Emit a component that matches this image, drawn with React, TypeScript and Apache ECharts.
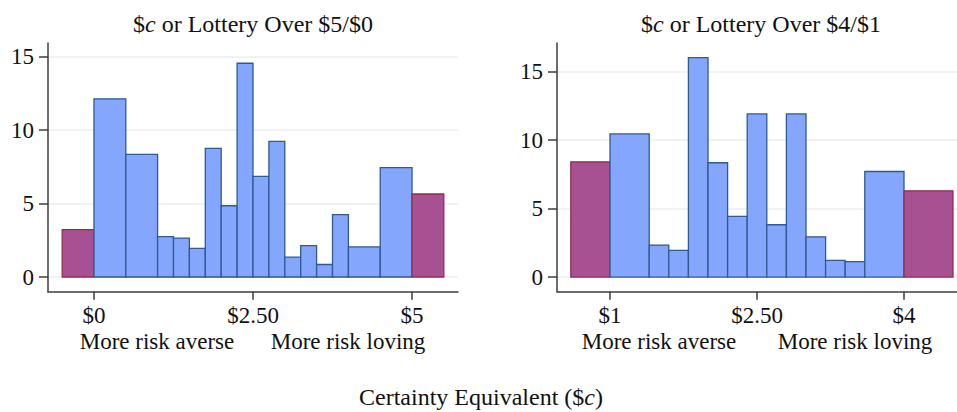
import React, { useEffect, useRef } from 'react';
import * as echarts from 'echarts';

// Left panel: $c or Lottery Over $5/$0 — bin edges and heights
const leftEdges = [-0.5, 0, 0.5, 1.0, 1.25, 1.5, 1.75, 2.0, 2.25, 2.5, 2.75, 3.0, 3.25, 3.5, 3.75, 4.0, 4.5, 5.0, 5.5];
const leftCounts = [3.22, 12.13, 8.35, 2.75, 2.65, 1.95, 8.75, 4.85, 14.55, 6.85, 9.23, 1.35, 2.13, 0.85, 4.25, 2.05, 7.45, 5.65];

// Right panel: $c or Lottery Over $4/$1
const rightEdges = [0.6, 1.0, 1.4, 1.6, 1.8, 2.0, 2.2, 2.4, 2.6, 2.8, 3.0, 3.2, 3.4, 3.6, 4.0, 4.5];
const rightCounts = [8.42, 10.46, 2.34, 1.95, 16.03, 8.35, 4.43, 11.92, 3.82, 11.92, 2.94, 1.22, 1.12, 7.71, 6.3];

const leftTicks = [0, 2.5, 5];
const rightTicks = [1, 2.5, 4];
const yTicks = [0, 5, 10, 15];

const FONT = 'Liberation Serif, Times New Roman, serif';
const TEXT = '#111111';
const AXIS = '#3c3c3c';
const GRID = '#e9f0f3';
const BLUE = '#84a6fc';
const BLUE_EDGE = '#2f5a92';
const PURPLE = '#a85192';
const PURPLE_EDGE = '#8f2f4f';

function binData(edges: number[], counts: number[]) {
  return counts.map((c, i) => [edges[i], edges[i + 1], c, i === 0 || i === counts.length - 1 ? 1 : 0]);
}

const fmtMoney = (v: number) => (v === 2.5 ? '$2.50' : '$' + v);

function xAxisCfg(grid: number, min: number, max: number, ticks: number[]) {
  return {
    type: 'value',
    gridIndex: grid,
    min,
    max,
    axisLine: { show: true, onZero: false, lineStyle: { color: AXIS, width: 1.5 } },
    axisTick: { show: true, length: 8, customValues: ticks, lineStyle: { color: AXIS, width: 1.5 } },
    axisLabel: { customValues: ticks, formatter: fmtMoney, fontSize: 23, fontFamily: FONT, color: TEXT, margin: 12 },
    splitLine: { show: false },
  };
}

function yAxisCfg(grid: number, min: number, max: number) {
  return {
    type: 'value',
    gridIndex: grid,
    min,
    max,
    axisLine: { show: true, onZero: false, lineStyle: { color: AXIS, width: 1.5 } },
    axisTick: { show: true, length: 9, customValues: yTicks, lineStyle: { color: AXIS, width: 1.5 } },
    axisLabel: { customValues: yTicks, fontSize: 23, fontFamily: FONT, color: TEXT, margin: 14 },
    splitLine: { show: true, lineStyle: { color: GRID, width: 1.5 } },
  };
}

const renderBin = (params: any, api: any) => {
  const x0 = api.value(0);
  const x1 = api.value(1);
  const h = api.value(2);
  const end = api.value(3);
  const p0 = api.coord([x0, h]);
  const p1 = api.coord([x1, 0]);
  return {
    type: 'rect',
    shape: { x: p0[0], y: p0[1], width: p1[0] - p0[0], height: p1[1] - p0[1] },
    style: {
      fill: end ? PURPLE : BLUE,
      stroke: end ? PURPLE_EDGE : BLUE_EDGE,
      lineWidth: 1.3,
    },
  };
};

function titleText(x: number, y: number, before: string, italic: string, after: string, size: number) {
  return {
    type: 'text',
    x,
    y,
    style: {
      text: `{n|${before}}{i|${italic}}{n|${after}}`,
      align: 'center',
      verticalAlign: 'middle',
      rich: {
        n: { fontSize: size, fontFamily: FONT, fill: TEXT, color: TEXT },
        i: { fontSize: size, fontFamily: FONT, fontStyle: 'italic', fill: TEXT, color: TEXT },
      },
    },
  };
}

function plainText(x: number, y: number, text: string) {
  return {
    type: 'text',
    x,
    y,
    style: {
      text,
      align: 'center',
      verticalAlign: 'middle',
      fontSize: 23,
      fontFamily: FONT,
      fill: TEXT,
    },
  };
}

export default function App() {
  const ref = useRef<HTMLDivElement>(null);
  useEffect(() => {
    if (!ref.current) return;
    const chart = echarts.init(ref.current, undefined, { renderer: 'svg' });
    chart.setOption({
      animation: false,
      backgroundColor: '#ffffff',
      grid: [
        { left: 48, top: 43, width: 410, height: 248.7 },
        { left: 557, top: 43, width: 400, height: 248.7 },
      ],
      xAxis: [xAxisCfg(0, -0.723, 5.723, leftTicks), xAxisCfg(1, 0.459, 4.541, rightTicks)],
      yAxis: [yAxisCfg(0, -1, 15.93), yAxisCfg(1, -1.07, 17.1)],
      series: [
        {
          type: 'custom',
          xAxisIndex: 0,
          yAxisIndex: 0,
          renderItem: renderBin,
          encode: { x: [0, 1], y: 2 },
          data: binData(leftEdges, leftCounts),
        },
        {
          type: 'custom',
          xAxisIndex: 1,
          yAxisIndex: 1,
          renderItem: renderBin,
          encode: { x: [0, 1], y: 2 },
          data: binData(rightEdges, rightCounts),
        },
      ],
      graphic: [
        titleText(253, 24, '$', 'c', ' or Lottery Over $5/$0', 24),
        titleText(761, 24, '$', 'c', ' or Lottery Over $4/$1', 24),
        plainText(157, 341, 'More risk averse'),
        plainText(348, 341, 'More risk loving'),
        plainText(659, 341, 'More risk averse'),
        plainText(855, 341, 'More risk loving'),
        titleText(481, 397, 'Certainty Equivalent ($', 'c', ')', 24),
      ],
    });
    return () => chart.dispose();
  }, []);
  return (
    <div
      ref={ref}
      style={{ position: 'absolute', left: 0, top: 0, width: 957, height: 412, background: '#fff' }}
    />
  );
}
